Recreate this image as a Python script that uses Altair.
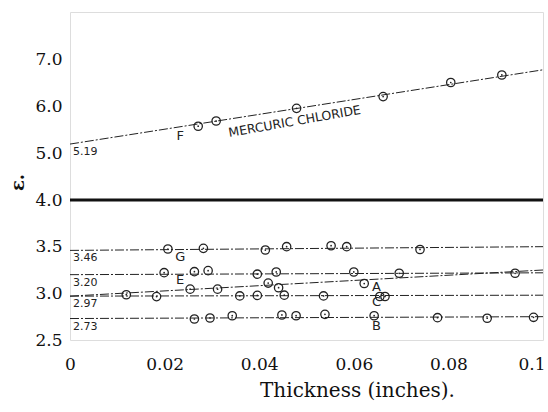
import altair as alt
import pandas as pd

# ---- data ----
# Curve lines (start at thickness 0, end at 0.1)
line_names = ["F", "G", "E", "A", "C", "B"]
line_start = [5.19, 3.46, 3.20, 2.97, 2.97, 2.73]
line_end = [6.77, 3.50, 3.22, 3.25, 2.98, 2.75]

# measured points
F_t = [0.0271, 0.0309, 0.0479, 0.0662, 0.0805, 0.0913]
F_v = [5.57, 5.68, 5.95, 6.20, 6.50, 6.66]
G_t = [0.0207, 0.0282, 0.0413, 0.0458, 0.0552, 0.0585, 0.0740]
G_v = [3.475, 3.482, 3.464, 3.50, 3.51, 3.50, 3.47]
E_t = [0.0199, 0.0263, 0.0292, 0.0396, 0.0436, 0.0600, 0.0696, 0.0941]
E_v = [3.221, 3.232, 3.243, 3.205, 3.229, 3.229, 3.215, 3.215]
A_t = [0.0119, 0.0254, 0.0312, 0.0419, 0.0441, 0.0622]
A_v = [2.985, 3.045, 3.045, 3.11, 3.06, 3.105]
C_t = [0.0183, 0.0359, 0.0396, 0.0453, 0.0536, 0.0655, 0.0666]
C_v = [2.965, 2.972, 2.978, 2.98, 2.972, 2.966, 2.966]
B_t = [0.0263, 0.0296, 0.0343, 0.0448, 0.0478, 0.0539, 0.0643, 0.0777, 0.0882, 0.0980]
B_v = [2.725, 2.736, 2.760, 2.768, 2.760, 2.775, 2.760, 2.739, 2.733, 2.743]

# start-value labels
start_labels = ["5.19", "3.46", "3.20", "2.97", "2.73"]
start_values = [5.19, 3.46, 3.20, 2.97, 2.73]

# curve letters
letters = ["F", "G", "E", "A", "C", "B"]
letter_t = [0.0233, 0.0233, 0.0233, 0.0648, 0.0648, 0.0648]
letter_v = [5.36, 3.39, 3.14, 3.065, 2.91, 2.65]

curve_name = ["MERCURIC CHLORIDE"]
curve_name_t = [0.0475]
curve_name_v = [5.67]

x_ticks = [0, 0.02, 0.04, 0.06, 0.08, 0.1]
y_ticks = [2.5, 3.0, 3.5, 4.0, 5.0, 6.0, 7.0]
break_value = [4.0]

# ---- tables ----
lines_df = pd.DataFrame(
    [{"series": n, "t": 0.0, "v": s} for n, s in zip(line_names, line_start)]
    + [{"series": n, "t": 0.1, "v": e} for n, e in zip(line_names, line_end)]
)
pts = []
for name, ts, vs in [("F", F_t, F_v), ("G", G_t, G_v), ("E", E_t, E_v),
                     ("A", A_t, A_v), ("C", C_t, C_v), ("B", B_t, B_v)]:
    pts += [{"series": name, "t": a, "v": b} for a, b in zip(ts, vs)]
pts_df = pd.DataFrame(pts)
start_df = pd.DataFrame({"label": start_labels, "t": [0.0] * 5, "v": start_values})
letter_df = pd.DataFrame({"label": letters, "t": letter_t, "v": letter_v})
name_df = pd.DataFrame({"label": curve_name, "t": curve_name_t, "v": curve_name_v})
break_df = pd.DataFrame({"v": break_value})

SERIF = "'DejaVu Serif', 'Liberation Serif', serif"

W, H = 473, 328
xs = alt.Scale(domain=[0, 0.1], nice=False, zero=False)
ys = alt.Scale(domain=[2.5, 4.0, 8.0], range=[H, 188, 0], nice=False, zero=False)

X = alt.X("t:Q", scale=xs,
          axis=alt.Axis(values=x_ticks, title="Thickness (inches).", grid=False,
                        domain=False, ticks=False, labelPadding=16, labelFontSize=17,
                        labelFont=SERIF, labelColor="#111",
                        labelExpr="datum.value == 0 ? '0' : datum.value == 0.1 ? '0.1' : format(datum.value, '.2f')",
                        labelFlush=False,
                        labelAlign={"condition": {"test": "datum.value >= 0.1", "value": "right"},
                                    "value": "center"},
                        labelOffset={"condition": {"test": "datum.value >= 0.1", "value": 2},
                                     "value": 0},
                        titleFont=SERIF, titleFontSize=20, titleFontWeight="normal",
                        titleAnchor="start", titleAlign="center", titleBaseline="middle",
                        titleX=287, titleY=50, titleColor="#111"))
Y = alt.Y("v:Q", scale=ys,
          axis=alt.Axis(values=y_ticks, title="ε.", grid=False, domain=False, ticks=False,
                        labelPadding=8, labelFontSize=17, labelFont=SERIF,
                        labelColor="#111", format=".1f",
                        titleFont=SERIF, titleFontSize=18, titleFontWeight="bold",
                        titleBaseline="middle", titleAlign="center",
                        titleX=-52, titleY=170, titleColor="#111"))

lines = alt.Chart(lines_df).mark_line(color="#222", strokeWidth=1, strokeDash=[9, 2, 2, 2]).encode(
    x=X, y=Y, detail="series:N")

brk = alt.Chart(break_df).mark_rule(color="#111", strokeWidth=3).encode(y=alt.Y("v:Q", scale=ys))

circles = alt.Chart(pts_df).mark_point(shape="circle", filled=False, color="#222",
                                       size=70, strokeWidth=1.3, opacity=1).encode(
    x=alt.X("t:Q", scale=xs), y=alt.Y("v:Q", scale=ys))
dots = alt.Chart(pts_df).mark_point(shape="circle", filled=True, color="#222",
                                    size=3, opacity=1).encode(
    x=alt.X("t:Q", scale=xs), y=alt.Y("v:Q", scale=ys))

starts = alt.Chart(start_df).mark_text(align="left", baseline="middle", dx=3, dy=8,
                                       font="DejaVu Sans", fontSize=11, color="#222").encode(
    x=alt.X("t:Q", scale=xs), y=alt.Y("v:Q", scale=ys), text="label:N")

lets = alt.Chart(letter_df).mark_text(align="center", baseline="middle",
                                      font="DejaVu Sans", fontSize=13, color="#222").encode(
    x=alt.X("t:Q", scale=xs), y=alt.Y("v:Q", scale=ys), text="label:N")

name = alt.Chart(name_df).mark_text(align="center", baseline="middle", angle=350,
                                    font="DejaVu Sans", fontSize=12.5, color="#222").encode(
    x=alt.X("t:Q", scale=xs), y=alt.Y("v:Q", scale=ys), text="label:N")

chart = alt.layer(lines, brk, circles, dots, starts, lets, name).properties(
    width=W, height=H,
    autosize=alt.AutoSizeParams(type="none"),
    padding={"left": 70, "top": 12, "right": 5, "bottom": 72},
).configure_view(stroke="#222", strokeWidth=1.2).configure(background="white")

chart.save("out.html", embed_options={"renderer": "svg", "actions": False})
